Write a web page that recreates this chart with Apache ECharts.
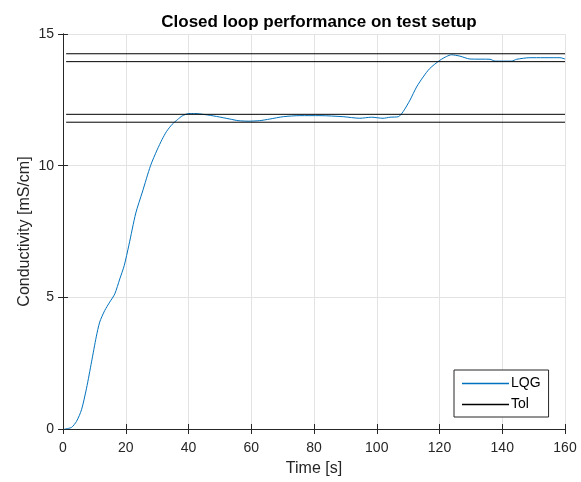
<!DOCTYPE html>
<html>
<head>
<meta charset="utf-8">
<script src="https://cdn.jsdelivr.net/npm/echarts@6/dist/echarts.min.js"></script>
<style>html,body{margin:0;padding:0;background:#fff;}#c{width:581px;height:482px;}</style>
</head>
<body>
<div id="c"></div>
<script>
var timeS = [0.5, 2.7, 4.3, 5.9, 7.5, 9.1, 10.6, 11.7, 13.3, 14.9, 16.5, 18.1, 19.5, 21, 23.2, 25.3, 27.9, 30, 31.6, 33, 34.8, 36.5, 38, 40.1, 42, 45.2, 48.9, 53.2, 55.8, 59, 62.7, 65.9, 70.2, 75.5, 81.9, 89.3, 94.6, 98.3, 102, 104.2, 106.9, 108.4, 110.6, 112.7, 114.8, 116.9, 120.1, 122.3, 123.8, 126.5, 129.7, 136.1, 137.7, 143, 144.6, 148.8, 158.4, 160];
var lqg = [0, 0.06, 0.29, 0.73, 1.55, 2.55, 3.5, 4.06, 4.5, 4.82, 5.13, 5.7, 6.2, 6.98, 8.2, 9.0, 10.0, 10.6, 11.0, 11.3, 11.57, 11.75, 11.89, 11.98, 11.98, 11.94, 11.87, 11.77, 11.71, 11.69, 11.71, 11.77, 11.86, 11.9, 11.9, 11.86, 11.8, 11.84, 11.8, 11.84, 11.86, 12.05, 12.49, 12.99, 13.37, 13.69, 14.0, 14.15, 14.21, 14.16, 14.05, 14.04, 13.97, 13.97, 14.04, 14.1, 14.1, 14.05];
var tolLevels = [14.25, 13.95, 11.95, 11.65];
var tolSpan = [1, 160];
var xTicks = [0, 160, 20];
var yTicks = [0, 15, 5];

var lqgData = timeS.map(function (t, i) { return [t, lqg[i]]; });
var txt = '#262626';
var font = 'Liberation Sans, Arial, sans-serif';
var series = [{
  name: 'LQG', type: 'line', data: lqgData, symbol: 'none', smooth: 0.25,
  lineStyle: { color: '#0072BD', width: 1 }, itemStyle: { color: '#0072BD' }, z: 3
}];
tolLevels.forEach(function (v) {
  series.push({
    name: 'Tol', type: 'line', symbol: 'none',
    data: [[tolSpan[0], v], [tolSpan[1], v]],
    lineStyle: { color: '#000', width: 1 }, itemStyle: { color: '#000' }, z: 4
  });
});

var chart = echarts.init(document.getElementById('c'), null, { renderer: 'canvas' });
chart.setOption({
  animation: false,
  backgroundColor: '#fff',
  textStyle: { fontFamily: font },
  title: {
    text: 'Closed loop performance on test setup', left: 314, top: 9, textAlign: 'center',
    textStyle: { fontSize: 17, fontWeight: 'bold', color: '#000', fontFamily: font }
  },
  grid: { left: 63, right: 16, top: 34, bottom: 51, containLabel: false },
  legend: {
    data: [{ name: 'LQG', icon: 'rect' }, { name: 'Tol', icon: 'rect' }],
    orient: 'vertical', left: 454, top: 370,
    backgroundColor: '#fff', borderColor: '#262626', borderWidth: 1, borderRadius: 0,
    padding: [5, 8, 4, 8], itemGap: 4, itemWidth: 47, itemHeight: 1.5,
    textStyle: { fontSize: 14, color: '#000', fontFamily: font, padding: [0, 0, 0, -3], lineHeight: 17 }
  },
  xAxis: [{
    type: 'value', min: xTicks[0], max: xTicks[1], interval: xTicks[2],
    name: 'Time [s]', nameLocation: 'middle', nameGap: 32, nameMoveOverlap: false,
    nameTextStyle: { fontSize: 16, color: txt, fontFamily: font },
    axisLine: { onZero: false, lineStyle: { color: txt, width: 1 } },
    axisTick: { inside: true, length: 5, lineStyle: { color: txt } },
    axisLabel: { fontSize: 14, color: txt, margin: 12, fontFamily: font },
    splitLine: { show: true, lineStyle: { color: '#e3e3e3', width: 1 } }
  }, {
    type: 'value', position: 'top', min: xTicks[0], max: xTicks[1], interval: xTicks[2],
    axisLine: { show: true, lineStyle: { color: txt, width: 1 } },
    axisTick: { inside: true, length: 5, lineStyle: { color: txt } },
    axisLabel: { show: false }, splitLine: { show: false }
  }],
  yAxis: [{
    type: 'value', min: yTicks[0], max: yTicks[1], interval: yTicks[2],
    name: 'Conductivity [mS/cm]', nameLocation: 'middle', nameGap: 30, nameMoveOverlap: false,
    nameTextStyle: { fontSize: 16, color: txt, fontFamily: font },
    axisLine: { show: true, onZero: false, lineStyle: { color: txt, width: 1 } },
    axisTick: { show: true, inside: true, length: 5, lineStyle: { color: txt } },
    axisLabel: { fontSize: 14, color: txt, margin: 9, fontFamily: font },
    splitLine: { show: true, lineStyle: { color: '#e3e3e3', width: 1 } }
  }, {
    type: 'value', position: 'right', min: yTicks[0], max: yTicks[1], interval: yTicks[2],
    axisLine: { show: true, lineStyle: { color: txt, width: 1 } },
    axisTick: { show: true, inside: true, length: 5, lineStyle: { color: txt } },
    axisLabel: { show: false }, splitLine: { show: false }
  }],
  series: series
});
</script>
</body>
</html>
